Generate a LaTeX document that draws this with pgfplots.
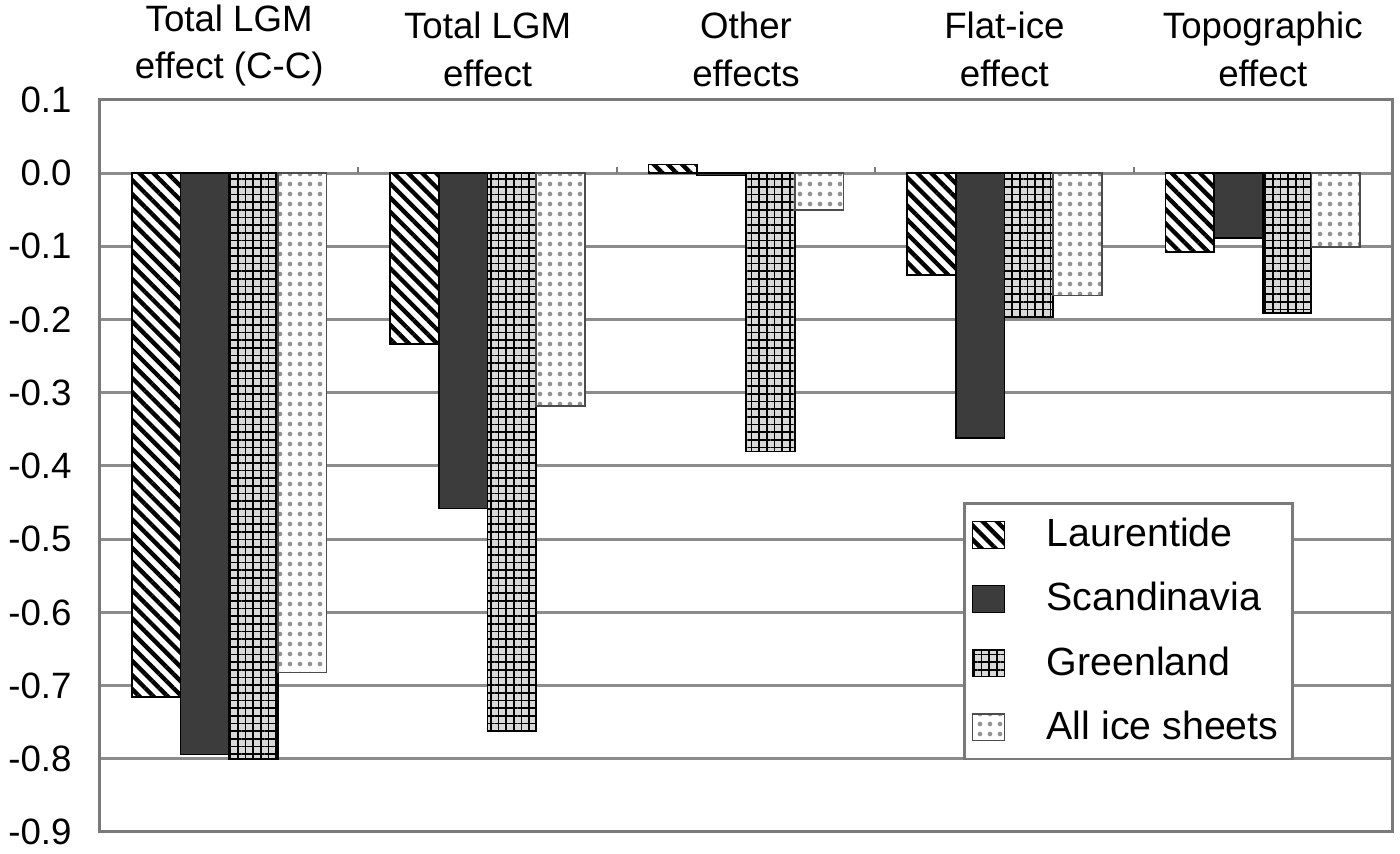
\documentclass[border=0pt]{standalone}
\usepackage{fontspec}
\setmainfont{Liberation Sans}
\usepackage{pgfplots}
\pgfplotsset{compat=1.18}
\usetikzlibrary{patterns.meta}

\definecolor{framegray}{HTML}{7A7A7A}
\definecolor{gridgray}{HTML}{8C8C8C}
\definecolor{scandfill}{HTML}{3C3C3C}

\begin{document}
\begin{tikzpicture}
% fixes the page to the reference's proportions
\path[use as bounding box] (-30pt,-6.6pt) rectangle (390pt,249.6pt);
\begin{axis}[
    scale only axis,
    width=387.6pt, height=219.6pt,
    ybar=0pt, bar width=14.6pt,
    xmin=0.5, xmax=5.5, ymin=-0.9, ymax=0.1,
    xtick={1,2,3,4,5},
    xticklabels={Total LGM\\effect (C-C), Total LGM\\effect, Other\\effects, Flat-ice\\effect, Topographic\\effect},
    xticklabel pos=upper,
    xticklabel style={align=center, font=\fontsize{11}{14.3}\selectfont, yshift=0.5pt},
    ytick={-0.9,-0.8,...,0.1},
    yticklabel style={xshift=-5pt},
    /pgf/number format/.cd, fixed, fixed zerofill, precision=1, assume math mode=true,
    /pgfplots/.cd,
    major tick length=0pt,
    ymajorgrids,
    grid style={gridgray, line width=0.9pt},
    axis line style={framegray, line width=0.9pt},
    every axis/.append style={font=\fontsize{11}{13.5}\selectfont},
    legend style={at={(0.668,0.098)}, anchor=south west, draw=framegray, line width=0.8pt,
        font=\fontsize{11.8}{13.5}\selectfont, row sep=5.2pt, inner xsep=2.3pt, inner ysep=2.4pt,
        /tikz/every odd column/.append style={column sep=10.5pt}},
    legend cell align=left,
    legend image code/.code={\draw[#1, line width=0.4pt] (0pt,-4pt) rectangle (9.5pt,4pt);},
]
\addplot[draw=black, line width=0.5pt, fill=white,
    postaction={pattern={Lines[angle=-45,distance=3pt,line width=1.3pt]}}]
    coordinates {(1,-0.716) (2,-0.233) (3,0.012) (4,-0.139) (5,-0.108)};
\addplot[draw=black, line width=0.5pt, fill=scandfill]
    coordinates {(1,-0.794) (2,-0.458) (3,-0.003) (4,-0.362) (5,-0.089)};
\addplot[draw=black, line width=0.5pt, fill=gray!30,
    postaction={pattern={Hatch[angle=0,distance=2.3pt,line width=0.5pt]}}]
    coordinates {(1,-0.800) (2,-0.762) (3,-0.380) (4,-0.197) (5,-0.191)};
\addplot[draw=black!70, line width=0.5pt, fill=white,
    postaction={pattern={Dots[distance=3pt,radius=0.7pt]}, pattern color=gray!85}]
    coordinates {(1,-0.682) (2,-0.318) (3,-0.050) (4,-0.167) (5,-0.101)};
\legend{Laurentide, Scandinavia, Greenland, All ice sheets}
\pgfplotsinvokeforeach{1.5,2.5,3.5,4.5}{
    \draw[framegray, line width=0.6pt] (axis cs:#1,0) -- (axis cs:#1,0.008);
}
\end{axis}
\end{tikzpicture}
\end{document}
